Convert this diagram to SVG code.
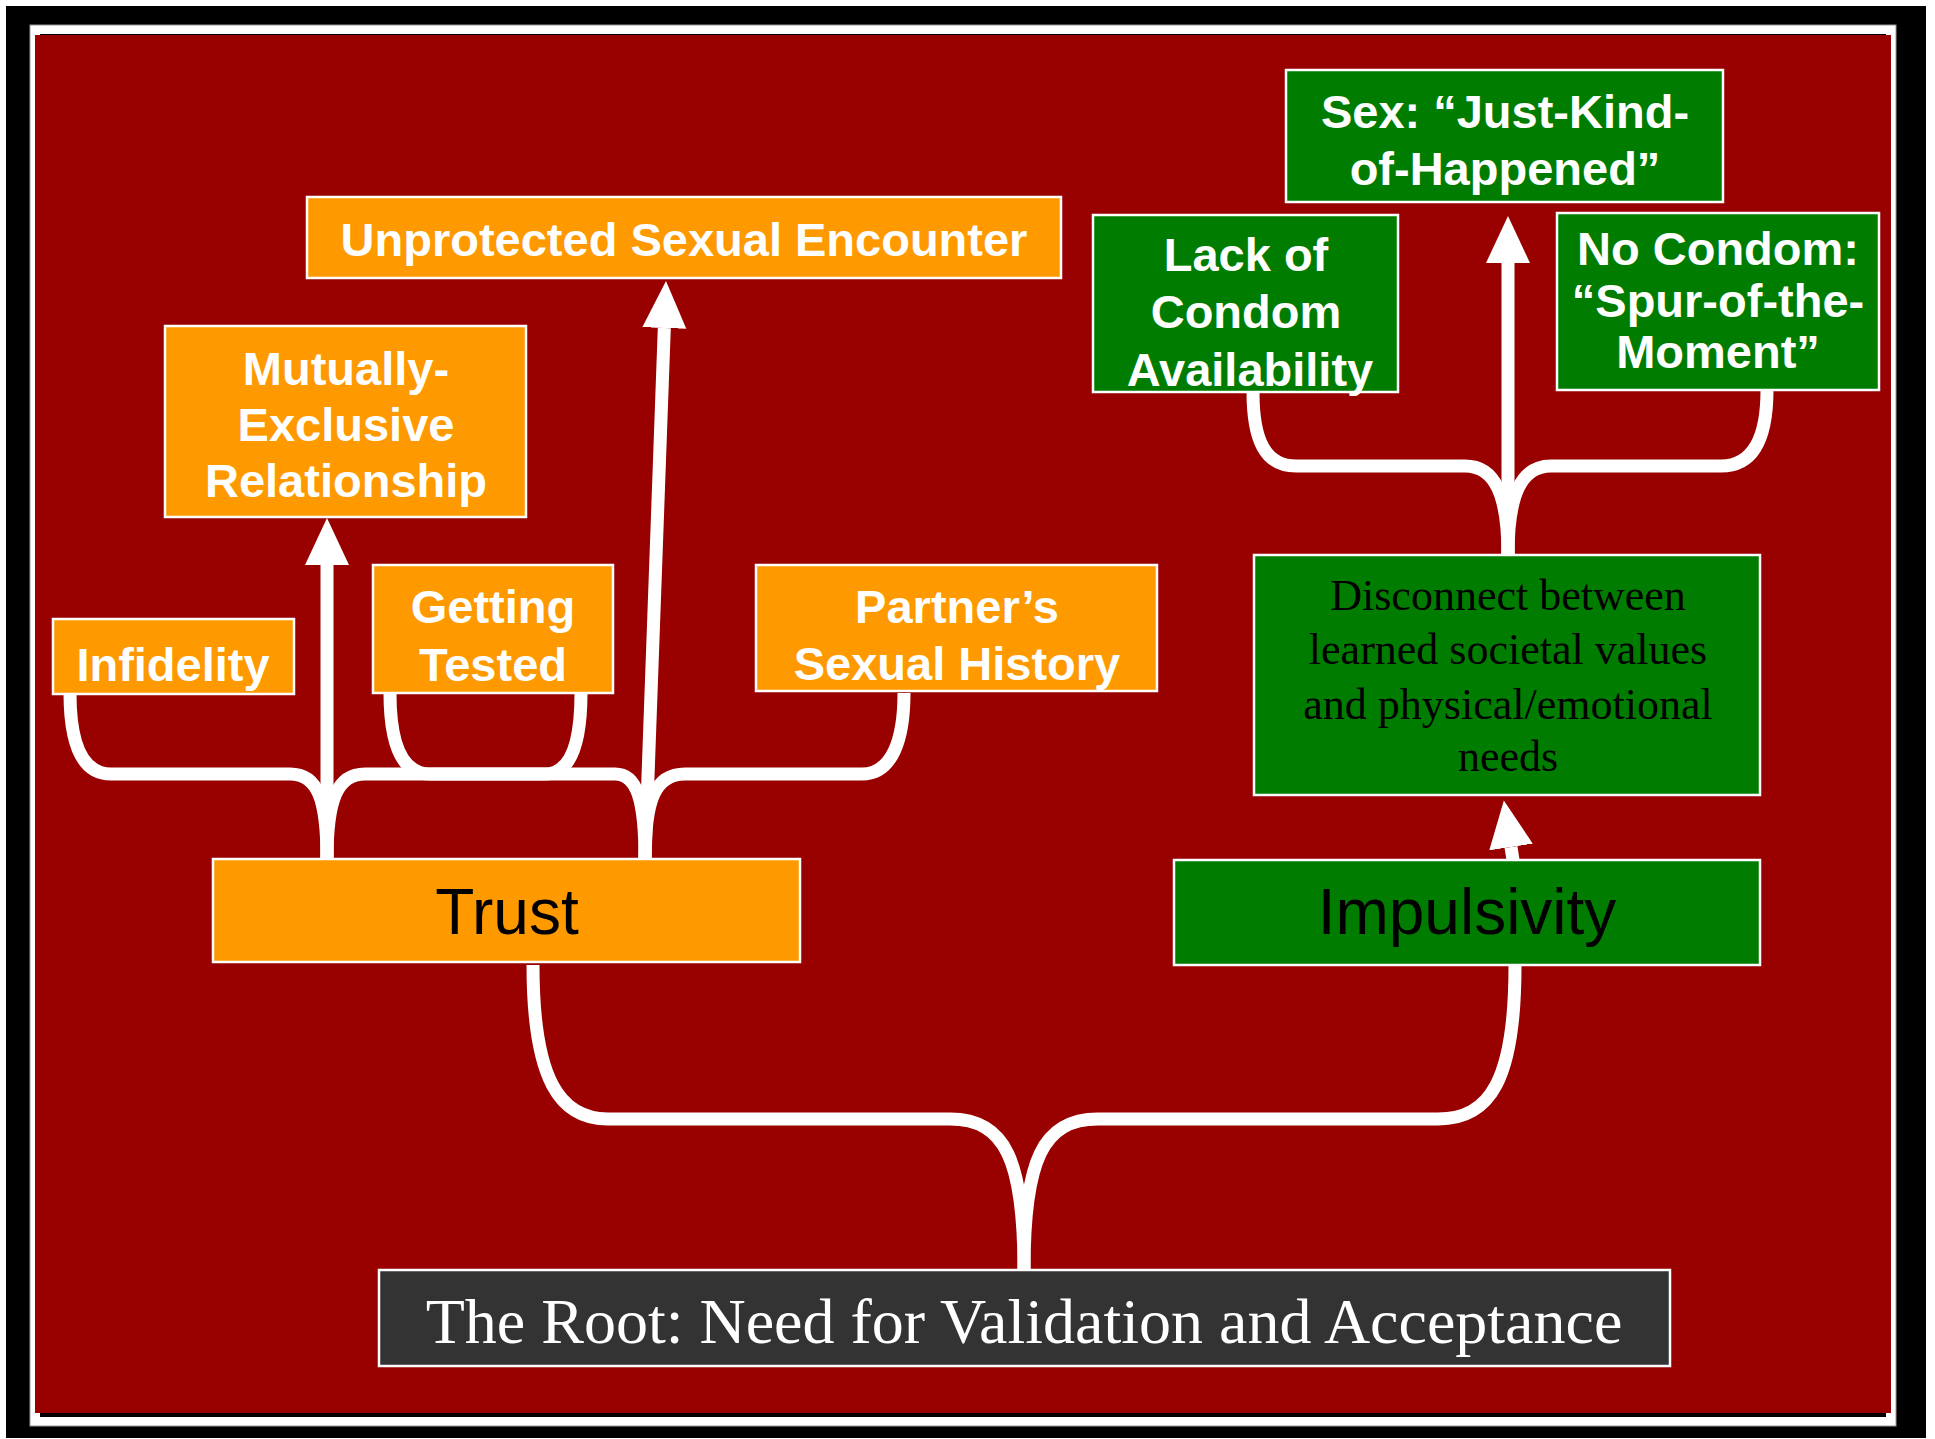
<svg xmlns="http://www.w3.org/2000/svg" width="1935" height="1439" viewBox="0 0 1935 1439">
<defs>
<style>
.org{fill:#FF9900;stroke:#FFFFFF;stroke-width:2.5}
.grn{fill:#007D00;stroke:#FFFFFF;stroke-width:2.5}
.root{fill:#333333;stroke:#FFFFFF;stroke-width:2.5}
.wb{font-family:"Liberation Sans",Arial,sans-serif;font-weight:bold;fill:#FFFFFF;text-anchor:middle;font-size:47px}
.big{font-family:"Liberation Sans",Arial,sans-serif;fill:#000000;text-anchor:middle;font-size:64px}
.ser{font-family:"Liberation Serif","Times New Roman",serif;text-anchor:middle}
.con{fill:none;stroke:#FFFFFF;stroke-width:13}
</style>
<marker id="ah" markerUnits="userSpaceOnUse" markerWidth="50" markerHeight="50" refX="0" refY="22" orient="auto">
<path d="M0,0 L47,22 L0,44 z" fill="#FFFFFF"/>
</marker>
</defs>
<rect x="6" y="6" width="1920" height="1432" fill="#000000"/>
<rect x="30" y="25" width="1866" height="1401" fill="#FFFFFF" stroke="#999999" stroke-width="1"/>
<rect x="40" y="34" width="1846" height="1383" fill="#000000"/>
<rect x="35" y="35" width="1856" height="1378" fill="#990000"/>

<g id="connectors">
<path class="con" d="M327,859 C327,800 318,774 290,774 L111,774 C80,774 70,740 70,693"/>
<path class="con" d="M327,859 C327,800 337,774 365,774 L615,774 C637,774 645,800 645,859"/>
<path class="con" d="M390,693 C390,740 400,774 430,774 L545,774 C572,774 581,740 581,693"/>
<path class="con" d="M645,859 C645,800 655,774 685,774 L862,774 C892,774 904,740 904,693"/>
<path class="con" d="M327,859 L327,565" marker-end="url(#ah)"/>
<path class="con" d="M645,859 L664.3,328" marker-end="url(#ah)"/>
<path class="con" d="M1513,860 L1511,847" marker-end="url(#ah)"/>
<path class="con" d="M1508,555 C1508,495 1495,466 1465,466 L1296,466 C1265,466 1253,440 1253,392"/>
<path class="con" d="M1508,555 C1508,495 1521,466 1551,466 L1721,466 C1752,466 1767,440 1767,390"/>
<path class="con" d="M1508,555 L1508,263" marker-end="url(#ah)"/>
<path class="con" d="M1024,1270 C1024,1160 1005,1119 950,1119 L608,1119 C560,1119 533,1080 533,965"/>
<path class="con" d="M1024,1270 C1024,1160 1043,1119 1098,1119 L1438,1119 C1490,1119 1515,1080 1515,966"/>
</g>

<g id="n-unprotected">
<rect class="org" x="307" y="197" width="754" height="81"/>
<text class="wb" x="684" y="256">Unprotected Sexual Encounter</text>
</g>
<g id="n-mutually">
<rect class="org" x="165" y="326" width="361" height="191"/>
<text class="wb" x="346" y="385">Mutually-</text>
<text class="wb" x="346" y="441">Exclusive</text>
<text class="wb" x="346" y="497">Relationship</text>
</g>
<g id="n-infidelity">
<rect class="org" x="53" y="619" width="241" height="75"/>
<text class="wb" x="173" y="681">Infidelity</text>
</g>
<g id="n-tested">
<rect class="org" x="373" y="565" width="240" height="128"/>
<text class="wb" x="493" y="623">Getting</text>
<text class="wb" x="493" y="681">Tested</text>
</g>
<g id="n-partner">
<rect class="org" x="756" y="565" width="401" height="126"/>
<text class="wb" x="957" y="623">Partner’s</text>
<text class="wb" x="957" y="680">Sexual History</text>
</g>
<g id="n-trust">
<rect class="org" x="213" y="859" width="587" height="103"/>
<text class="big" x="507" y="934">Trust</text>
</g>
<g id="n-sex">
<rect class="grn" x="1286" y="70" width="437" height="132"/>
<text class="wb" x="1505" y="128">Sex: “Just-Kind-</text>
<text class="wb" x="1505" y="185">of-Happened”</text>
</g>
<g id="n-lack">
<rect class="grn" x="1093" y="215" width="305" height="177"/>
<text class="wb" x="1246" y="271">Lack of</text>
<text class="wb" x="1246" y="328">Condom</text>
<text class="wb" x="1250" y="386">Availability</text>
</g>
<g id="n-nocondom">
<rect class="grn" x="1557" y="213" width="322" height="177"/>
<text class="wb" x="1718" y="265" font-size="42">No Condom:</text>
<text class="wb" x="1718" y="317" font-size="42">“Spur-of-the-</text>
<text class="wb" x="1718" y="368" font-size="42">Moment”</text>
</g>
<g id="n-disconnect">
<rect class="grn" x="1254" y="555" width="506" height="240"/>
<text class="ser" x="1508" y="610" font-size="44" fill="#000000">Disconnect between</text>
<text class="ser" x="1508" y="664" font-size="44" fill="#000000">learned societal values</text>
<text class="ser" x="1508" y="719" font-size="44" fill="#000000">and physical/emotional</text>
<text class="ser" x="1508" y="771" font-size="44" fill="#000000">needs</text>
</g>
<g id="n-impulsivity">
<rect class="grn" x="1174" y="860" width="586" height="105"/>
<text class="big" x="1467" y="934">Impulsivity</text>
</g>
<g id="n-root">
<rect class="root" x="379" y="1270" width="1291" height="96"/>
<text class="ser" x="1024" y="1343" font-size="64" fill="#FFFFFF">The Root: Need for Validation and Acceptance</text>
</g>
</svg>
